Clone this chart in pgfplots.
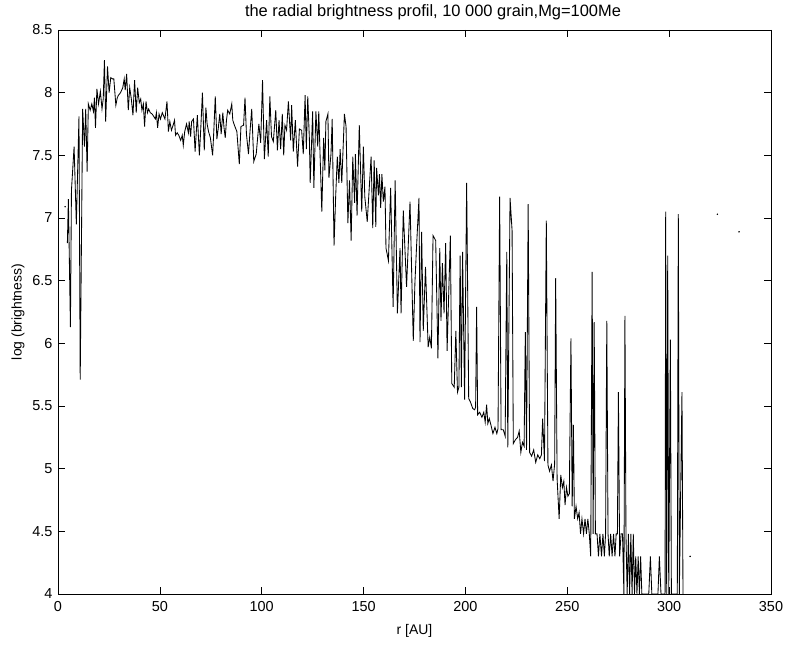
\documentclass[border=0pt]{standalone}
\usepackage{fontspec}
\setmainfont{Liberation Sans}
\usepackage{pgfplots}
\pgfplotsset{compat=1.18}
\usetikzlibrary{calc}
\begin{document}
\begin{tikzpicture}
\begin{axis}[name=ax, scale only axis, width=713bp, height=564bp,
  xmin=0, xmax=350, ymin=4, ymax=8.5,
  xtick={0,50,100,150,200,250,300,350},
  ytick={4,4.5,5,5.5,6,6.5,7,7.5,8,8.5},
  yticklabels={4,4.5,5,5.5,6,6.5,7,7.5,8,8.5},
  tick align=inside, major tick length=7bp,
  major tick style={black, line width=0.6bp},
  axis line style={black, line width=0.9bp},
  /pgf/number format/assume math mode=true,
  ticklabel style={font=\fontsize{14.5}{16}\selectfont},
  xticklabel style={yshift=-4bp},
  yticklabel style={xshift=-2bp},
  title={the radial brightness profil, 10 000 grain,Mg=100Me},
  title style={at={(axis description cs:0.526,1.021)}, anchor=center, font=\fontsize{16.5}{18}\selectfont},
  xlabel={r [AU]},
  xlabel style={at={(axis description cs:0.5,-0.0656)}, anchor=center, font=\fontsize{14}{16}\selectfont},
  ylabel={log (brightness)},
  ylabel style={at={(axis description cs:-0.0561,0.5)}, anchor=center, font=\fontsize{14}{16}\selectfont},
  clip=true]
\addplot[black, line width=0.85bp] coordinates {
(4.6,6.80) (5.1,7.15) (6.1,6.13) (6.6,7.22) (7.9,7.57) (9.0,6.95) (10.3,7.81) (10.9,5.71)
(12.1,7.87) (13.0,7.57) (13.6,7.87) (14.3,7.37) (14.9,7.91) (15.8,7.86) (16.6,7.91)
(17.4,7.85) (17.9,7.96) (18.4,7.72) (19.1,8.03) (19.9,7.91) (20.8,8.01) (21.6,7.87)
(22.2,7.95) (22.8,8.26) (23.4,7.77) (24.3,8.21) (25.1,8.00) (25.9,8.12) (26.7,8.11)
(27.4,8.11) (28.4,7.90) (29.1,7.96) (29.7,7.98) (30.7,8.00) (31.8,8.04) (32.5,8.11)
(33.0,8.02) (33.7,8.15) (34.5,7.86) (35.2,8.04) (36.0,7.95) (36.8,7.82) (37.6,8.10)
(38.4,7.84) (39.1,8.04) (39.9,7.92) (40.6,7.95) (41.2,7.86) (41.9,7.91) (42.5,7.73)
(43.2,7.93) (43.9,7.84) (44.5,7.87) (45.3,7.84) (46.2,7.83) (47.0,7.81) (47.8,7.79)
(48.3,7.84) (48.9,7.72) (49.6,7.83) (50.3,7.79) (51.2,7.84) (52.5,7.79) (53.5,7.93)
(54.2,7.69) (54.9,7.77) (55.7,7.70) (56.5,7.74) (57.2,7.78) (57.7,7.66) (58.5,7.68)
(59.3,7.66) (60.2,7.62) (61.0,7.66) (61.5,7.58) (62.2,7.69) (63.1,7.75) (64.0,7.68)
(64.4,7.77) (65.1,7.65) (65.6,7.77) (66.5,7.79) (67.3,7.53) (68.4,7.82) (69.4,7.50)
(70.1,7.72) (70.9,8.00) (71.8,7.54) (72.6,7.88) (73.2,7.75) (73.9,7.69) (74.8,7.64)
(75.9,7.50) (76.5,7.70) (77.2,7.97) (78.0,7.63) (78.7,7.72) (79.4,7.83) (80.1,7.67)
(80.9,7.84) (81.5,7.72) (82.1,7.64) (82.7,7.78) (83.3,7.86) (84.3,7.83) (85.3,7.91)
(85.8,7.78) (86.6,7.74) (87.8,7.69) (89.0,7.43) (89.8,7.73) (91.1,7.74) (91.8,7.96)
(92.5,7.67) (93.5,7.51) (94.3,7.70) (95.1,7.87) (96.1,7.45) (97.3,7.51) (98.6,7.75)
(99.5,7.60) (100.4,8.10) (101.3,7.47) (102.4,7.78) (103.2,7.49) (104.0,7.97) (104.8,7.65)
(105.7,7.61) (106.9,7.86) (107.7,7.54) (108.5,7.78) (109.3,7.55) (110.1,7.83) (110.8,7.50)
(111.4,7.74) (112.2,7.70) (113.1,7.93) (114.2,7.62) (114.7,7.90) (115.5,7.53) (116.5,7.78)
(117.6,7.41) (118.5,7.71) (119.6,7.70) (120.4,7.51) (121.3,7.98) (121.9,7.55) (122.6,7.97)
(123.4,7.63) (123.8,7.28) (125.0,7.85) (125.6,7.24) (126.6,7.85) (127.5,7.57) (128.0,7.85)
(129.5,7.05) (130.4,7.64) (131.0,7.38) (131.5,7.77) (132.5,7.83) (133.0,7.32) (134.0,7.51)
(134.6,7.79) (135.5,6.78) (136.3,7.17) (137.1,7.49) (137.9,7.28) (138.5,7.55) (139.3,7.28)
(140.6,7.83) (141.4,7.73) (142.3,6.96) (143.1,7.30) (143.9,6.82) (144.7,7.49) (145.6,7.12)
(146.0,7.51) (146.8,7.02) (147.9,7.74) (149.1,7.05) (149.9,7.57) (150.6,7.17) (151.8,6.97)
(153.7,7.49) (154.5,6.92) (155.2,7.46) (156.0,6.93) (156.4,7.40) (157.3,7.18) (157.8,7.35)
(158.4,7.08) (159.0,7.35) (159.7,7.13) (160.5,7.25) (161.0,6.76) (162.2,6.66) (163.3,7.24)
(164.5,6.29) (165.5,7.30) (166.6,6.24) (167.9,6.76) (168.4,6.24) (169.5,7.06) (171.1,6.45)
(172.8,7.13) (174.4,6.02) (175.2,6.48) (176.0,6.77) (177.2,7.16) (177.7,6.01) (178.5,6.89)
(179.3,6.10) (180.4,6.61) (181.7,5.97) (182.5,6.05) (183.3,5.96) (184.1,6.86) (185.4,6.82)
(186.5,5.88) (187.4,6.76) (188.0,6.18) (188.7,6.64) (189.5,6.24) (190.3,6.80) (191.0,5.94)
(192.6,6.86) (193.3,5.68) (194.5,5.65) (195.3,6.10) (196.1,5.61) (196.8,5.65) (197.4,6.70)
(198.0,5.65) (198.6,6.73) (199.6,5.55) (200.6,7.28) (201.6,5.56) (202.5,5.53) (203.6,5.48)
(204.5,5.47) (205.0,5.49) (205.5,6.29) (206.0,5.43) (207.0,5.45) (208.1,5.41) (209.0,5.45)
(209.7,5.37) (210.4,5.51) (211.0,5.36) (211.7,5.40) (212.5,5.35) (213.5,5.28) (214.5,5.33)
(215.4,5.28) (216.0,5.32) (216.8,7.17) (217.5,5.31) (218.6,5.31) (219.5,5.26) (220.3,6.73)
(220.8,5.17) (221.9,7.16) (222.9,6.90) (223.5,5.20) (224.5,5.23) (225.6,5.25) (226.4,5.30)
(227.2,5.13) (228.0,5.21) (228.8,5.18) (229.4,6.09) (230.0,5.15) (230.8,7.11) (231.5,5.13)
(232.5,5.10) (233.5,5.15) (234.5,5.05) (235.5,5.11) (236.5,5.08) (237.3,5.11) (237.9,5.40)
(238.8,5.06) (239.7,6.98) (240.5,5.03) (241.3,4.98) (242.2,5.03) (243.0,4.90) (243.8,5.04)
(244.3,6.52) (245.0,4.92) (246.0,4.60) (246.8,4.95) (247.6,4.85) (248.3,4.90) (248.9,4.71)
(249.6,4.85) (250.3,4.78) (251.0,4.80) (251.8,6.04) (252.4,4.70) (253.0,5.35) (253.5,4.60)
(254.3,4.70) (255.1,4.60) (255.8,4.65) (256.5,4.48) (257.2,4.60) (258.0,4.48) (258.7,4.60)
(259.4,4.48) (260.1,4.60) (260.8,4.48) (261.5,4.30) (262.2,6.57) (262.7,4.48) (263.2,6.17)
(263.8,4.48) (264.6,4.48) (265.3,4.30) (266.0,4.48) (266.8,4.30) (267.5,4.48) (268.2,4.30)
(268.8,4.48) (269.4,6.18) (270.0,4.48) (270.6,4.30) (271.3,4.48) (272.0,4.30) (272.7,4.48)
(273.4,4.30) (274.0,4.48) (274.6,4.48) (275.1,5.61) (275.7,4.30) (276.4,4.48) (277.1,4.48)
(277.8,4.00) (278.3,6.22) (278.8,4.48) (279.4,4.00) (280.0,4.48) (280.6,4.00) (281.2,4.48)
(281.8,4.00) (282.4,4.48) (283.0,4.00) (283.6,4.30) (284.2,4.00) (284.8,4.30) (285.4,4.00)
(286.0,4.30) (286.6,4.00) (290.0,4.00) (290.8,4.30) (291.5,4.00) (294.5,4.00) (295.2,4.30)
(296.0,4.00) (298.0,4.00) (298.3,7.05) (298.8,4.00) (299.3,6.70) (299.8,4.00) (300.6,6.03)
(301.1,4.00) (304.0,4.00) (304.5,7.03) (305.0,4.00) (306.3,5.61) (306.8,4.00)
};
\addplot[only marks, mark=*, mark size=0.5bp, black] coordinates {
(3.5,7.09) (310.3,4.30) (323.7,7.03) (334.3,6.89)
};
\end{axis}
\pgfresetboundingbox
\path[use as bounding box] ($(ax.south west)+(-58bp,-52bp)$) rectangle ($(ax.north east)+(17bp,30bp)$);
\end{tikzpicture}
\end{document}
